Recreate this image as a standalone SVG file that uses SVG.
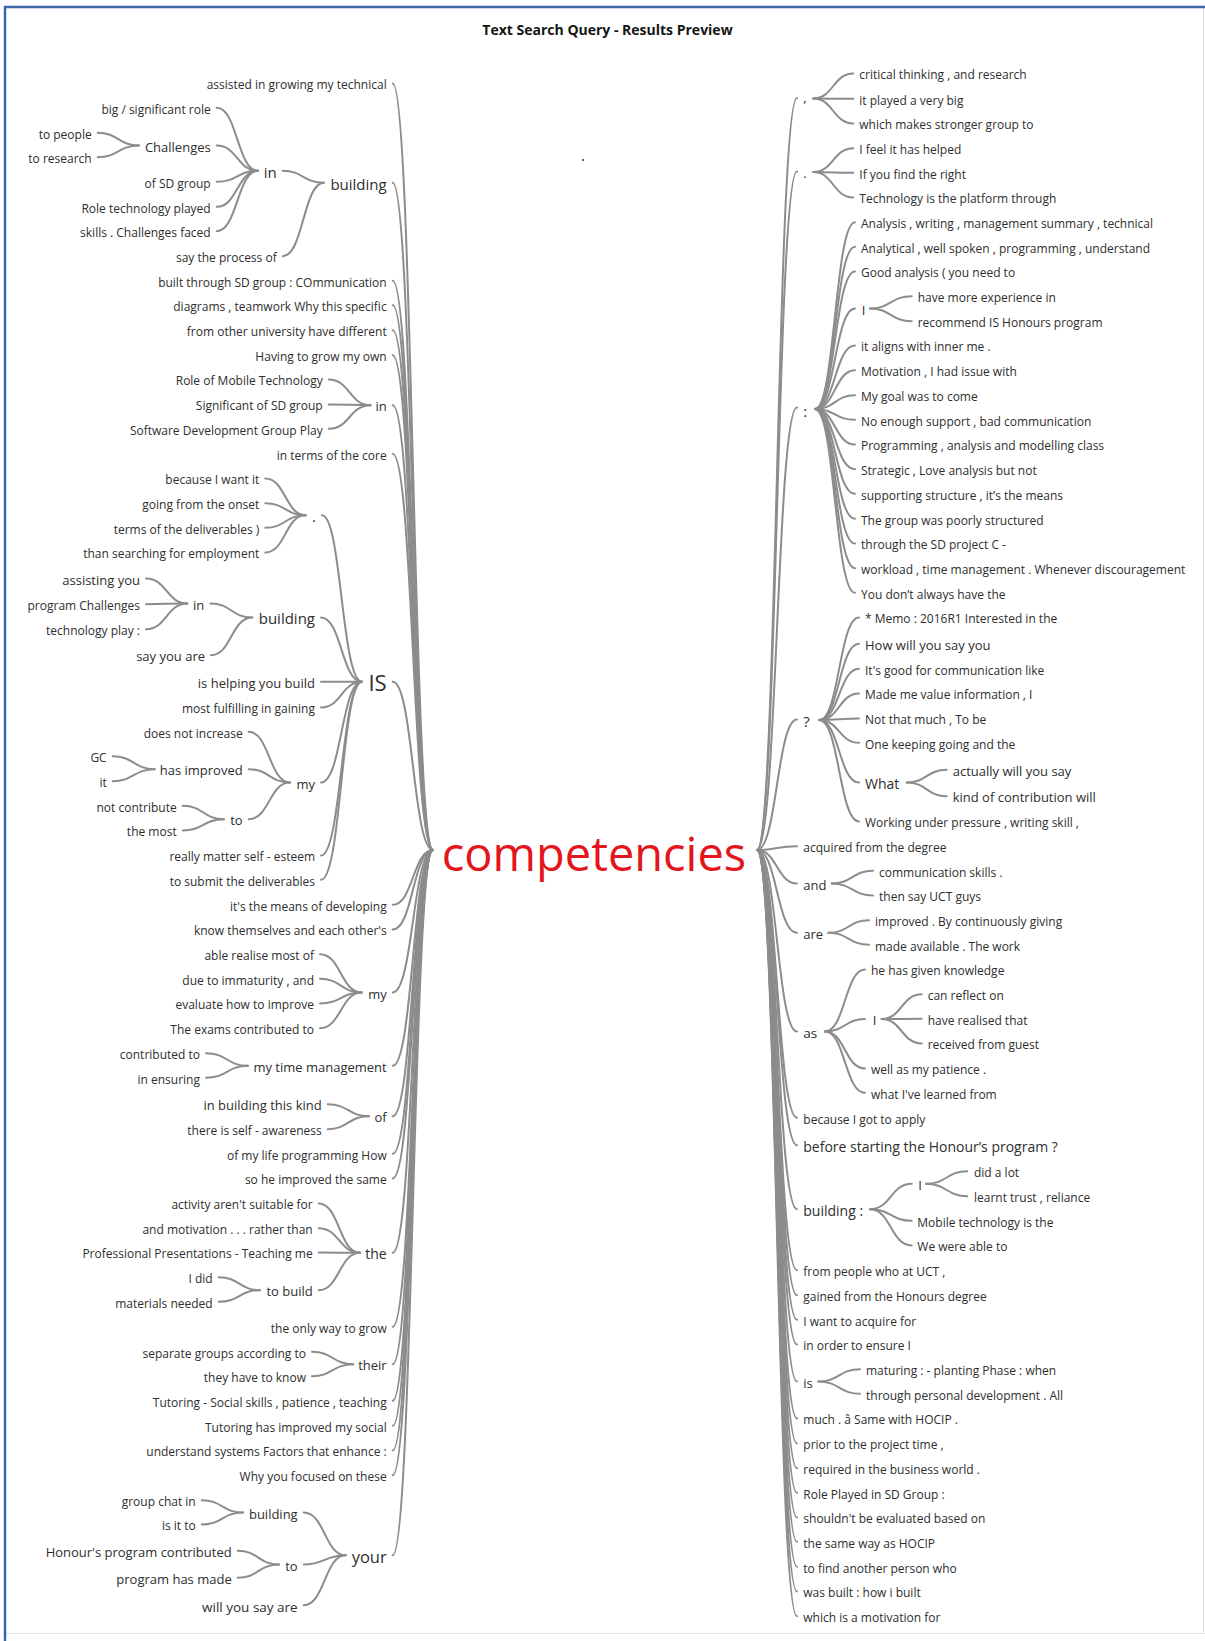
<svg xmlns="http://www.w3.org/2000/svg" width="1205" height="1641" viewBox="0 0 1205 1641">
<style>
text { font-family: "Open Sans", "Noto Sans", "DejaVu Sans", sans-serif; fill: #2e2e2e; }
.e { text-anchor: end; }
.s12 { font-size: 12px; }
.s13 { font-size: 13px; }
.s135 { font-size: 13.5px; }
.s14 { font-size: 14px; }
.s15 { font-size: 15px; }
.s165 { font-size: 16.5px; }
.s22 { font-size: 22px; }
.root { font-size: 47px; fill: #e3151d; }
.title { font-size: 14px; font-weight: bold; fill: #141414; text-anchor: middle; }
#connectors path { fill: none; stroke: #8c8c8c; stroke-width: 2; stroke-linecap: round; }
</style>
<rect width="1205" height="1641" fill="#ffffff"/>
<!-- window frame -->
<line x1="1203.5" y1="7" x2="1203.5" y2="1633" stroke="#dcdcdc" stroke-width="1"/>
<line x1="5" y1="1633.5" x2="1205" y2="1633.5" stroke="#e2e2e2" stroke-width="1"/>
<line x1="4" y1="7" x2="1205" y2="7" stroke="#3d66ab" stroke-width="2.5"/>
<line x1="5" y1="6" x2="5" y2="1641" stroke="#3d66ab" stroke-width="2.5"/>
<circle cx="583" cy="160" r="1" fill="#333"/>
<text class="title" x="607.5" y="35">Text Search Query - Results Preview</text>

<g id="connectors">
<!-- left trunk to root -->
<path d="M392.7 83.5C413 83.5 413 850 433 850"/>
<path d="M392.7 182.8C413 182.8 413 850 433 850"/>
<path d="M392.7 280.8C413 280.8 413 850 433 850"/>
<path d="M392.7 305.2C413 305.2 413 850 433 850"/>
<path d="M392.7 330.2C413 330.2 413 850 433 850"/>
<path d="M392.7 355.2C413 355.2 413 850 433 850"/>
<path d="M392.7 405.2C413 405.2 413 850 433 850"/>
<path d="M392.7 453.8C413 453.8 413 850 433 850"/>
<path d="M392.7 681.8C413 681.8 413 850 433 850"/>
<path d="M392.7 904.8C413 904.8 413 850 433 850"/>
<path d="M392.7 929.5C413 929.5 413 850 433 850"/>
<path d="M392.7 992.5C413 992.5 413 850 433 850"/>
<path d="M392.7 1065.8C413 1065.8 413 850 433 850"/>
<path d="M392.7 1116.2C413 1116.2 413 850 433 850"/>
<path d="M392.7 1153.8C413 1153.8 413 850 433 850"/>
<path d="M392.7 1178.5C413 1178.5 413 850 433 850"/>
<path d="M392.7 1252.8C413 1252.8 413 850 433 850"/>
<path d="M392.7 1326.8C413 1326.8 413 850 433 850"/>
<path d="M392.7 1364.2C413 1364.2 413 850 433 850"/>
<path d="M392.7 1400.8C413 1400.8 413 850 433 850"/>
<path d="M392.7 1425.8C413 1425.8 413 850 433 850"/>
<path d="M392.7 1450.5C413 1450.5 413 850 433 850"/>
<path d="M392.7 1475.2C413 1475.2 413 850 433 850"/>
<path d="M392.7 1555.2C413 1555.2 413 850 433 850"/>
<!-- building (top) -->
<path d="M282.7 170.8C303.3 170.8 303.3 182.8 324 182.8"/>
<path d="M282.7 256.2C303.3 256.2 303.3 182.8 324 182.8"/>
<!-- in (top) -->
<path d="M216.7 107.8C237.3 107.8 237.3 170.8 258 170.8"/>
<path d="M216.7 145.5C237.3 145.5 237.3 170.8 258 170.8"/>
<path d="M216.7 181.8C237.3 181.8 237.3 170.8 258 170.8"/>
<path d="M216.7 206.8C237.3 206.8 237.3 170.8 258 170.8"/>
<path d="M216.7 231.2C237.3 231.2 237.3 170.8 258 170.8"/>
<!-- Challenges -->
<path d="M97.7 132.8C118.3 132.8 118.3 145.5 139 145.5"/>
<path d="M97.7 157.2C118.3 157.2 118.3 145.5 139 145.5"/>
<!-- in (second) -->
<path d="M328.7 379.5C349.6 379.5 349.6 405.2 370.5 405.2"/>
<path d="M328.7 404.5C349.6 404.5 349.6 405.2 370.5 405.2"/>
<path d="M328.7 428.8C349.6 428.8 349.6 405.2 370.5 405.2"/>
<!-- IS -->
<path d="M322 515.2C341.5 515.2 341.5 681.8 362 681.8"/>
<path d="M321 617.5C341.5 617.5 341.5 681.8 362 681.8"/>
<path d="M321 681.8H362"/>
<path d="M321 707.5C341.5 707.5 341.5 681.8 362 681.8"/>
<path d="M321 782.5C341.5 782.5 341.5 681.8 362 681.8"/>
<path d="M321 855.5C341.5 855.5 341.5 681.8 362 681.8"/>
<path d="M321 879.8C341.5 879.8 341.5 681.8 362 681.8"/>
<!-- . under IS -->
<path d="M265.3 478.5C285.4 478.5 285.4 515.2 305.5 515.2"/>
<path d="M265.3 503.2C285.4 503.2 285.4 515.2 305.5 515.2"/>
<path d="M265.3 527.8C285.4 527.8 285.4 515.2 305.5 515.2"/>
<path d="M265.3 552.5C285.4 552.5 285.4 515.2 305.5 515.2"/>
<!-- building under IS -->
<path d="M210.3 603.5C231.3 603.5 231.3 617.5 252.3 617.5"/>
<path d="M211 655.2C231.3 655.2 231.3 617.5 252.3 617.5"/>
<path d="M146 578.5C166.6 578.5 166.6 603.5 187.3 603.5"/>
<path d="M146 604.2C166.6 604.2 166.6 603.5 187.3 603.5"/>
<path d="M146 629.2C166.6 629.2 166.6 603.5 187.3 603.5"/>
<!-- my under IS -->
<path d="M248.7 731.8C269.3 731.8 269.3 782.5 290 782.5"/>
<path d="M248.7 769.2C269.3 769.2 269.3 782.5 290 782.5"/>
<path d="M248.7 819.2C269.3 819.2 269.3 782.5 290 782.5"/>
<path d="M112.7 756.2C133.7 756.2 133.7 769.2 154.7 769.2"/>
<path d="M112.7 781.2C133.7 781.2 133.7 769.2 154.7 769.2"/>
<path d="M182.7 805.8C203.3 805.8 203.3 819.2 224 819.2"/>
<path d="M182.7 830.5C203.3 830.5 203.3 819.2 224 819.2"/>
<!-- my -->
<path d="M320 954.2C340.8 954.2 340.8 992.5 361.7 992.5"/>
<path d="M320 978.8C340.8 978.8 340.8 992.5 361.7 992.5"/>
<path d="M320 1003.5C340.8 1003.5 340.8 992.5 361.7 992.5"/>
<path d="M320 1028.2C340.8 1028.2 340.8 992.5 361.7 992.5"/>
<!-- my time management -->
<path d="M206 1053.2C227 1053.2 227 1065.8 248 1065.8"/>
<path d="M206 1077.8C227 1077.8 227 1065.8 248 1065.8"/>
<!-- of -->
<path d="M327.7 1104.2C348.3 1104.2 348.3 1116.2 369 1116.2"/>
<path d="M327.7 1129.2C348.3 1129.2 348.3 1116.2 369 1116.2"/>
<!-- the -->
<path d="M318.7 1203.5C339.3 1203.5 339.3 1252.8 360 1252.8"/>
<path d="M318.7 1228.2C339.3 1228.2 339.3 1252.8 360 1252.8"/>
<path d="M318.7 1252.5C339.3 1252.5 339.3 1252.8 360 1252.8"/>
<path d="M318.7 1290.2C339.3 1290.2 339.3 1252.8 360 1252.8"/>
<path d="M218.7 1277.2C239.3 1277.2 239.3 1290.2 260 1290.2"/>
<path d="M218.7 1301.8C239.3 1301.8 239.3 1290.2 260 1290.2"/>
<!-- their -->
<path d="M312 1351.8C332.7 1351.8 332.7 1364.2 353.3 1364.2"/>
<path d="M312 1376.2C332.7 1376.2 332.7 1364.2 353.3 1364.2"/>
<!-- your -->
<path d="M303.7 1512.5C324.7 1512.5 324.7 1555.2 345.7 1555.2"/>
<path d="M303.7 1564.5C324.7 1564.5 324.7 1555.2 345.7 1555.2"/>
<path d="M303.7 1605.2C324.7 1605.2 324.7 1555.2 345.7 1555.2"/>
<path d="M201.7 1500.2C222.3 1500.2 222.3 1512.5 243 1512.5"/>
<path d="M201.7 1524.5C222.3 1524.5 222.3 1512.5 243 1512.5"/>
<path d="M237.7 1550.8C258.3 1550.8 258.3 1564.5 279 1564.5"/>
<path d="M237.7 1577.8C258.3 1577.8 258.3 1564.5 279 1564.5"/>

<!-- right trunk from root -->
<path d="M757 850C777 850 777 98 797 98"/>
<path d="M757 850C777 850 777 171.5 797 171.5"/>
<path d="M757 850C777 850 777 407.5 797 407.5"/>
<path d="M757 850C777 850 777 719.5 797 719.5"/>
<path d="M757 850C777 850 777 846.2 797 846.2"/>
<path d="M757 850C777 850 777 883.5 797 883.5"/>
<path d="M757 850C777 850 777 932.8 797 932.8"/>
<path d="M757 850C777 850 777 1031.5 797 1031.5"/>
<path d="M757 850C777 850 777 1117.8 797 1117.8"/>
<path d="M757 850C777 850 777 1145.2 797 1145.2"/>
<path d="M757 850C777 850 777 1209.2 797 1209.2"/>
<path d="M757 850C777 850 777 1270.2 797 1270.2"/>
<path d="M757 850C777 850 777 1295.2 797 1295.2"/>
<path d="M757 850C777 850 777 1319.8 797 1319.8"/>
<path d="M757 850C777 850 777 1344.5 797 1344.5"/>
<path d="M757 850C777 850 777 1381.5 797 1381.5"/>
<path d="M757 850C777 850 777 1418.5 797 1418.5"/>
<path d="M757 850C777 850 777 1443.5 797 1443.5"/>
<path d="M757 850C777 850 777 1468.2 797 1468.2"/>
<path d="M757 850C777 850 777 1492.8 797 1492.8"/>
<path d="M757 850C777 850 777 1517.5 797 1517.5"/>
<path d="M757 850C777 850 777 1541.8 797 1541.8"/>
<path d="M757 850C777 850 777 1566.8 797 1566.8"/>
<path d="M757 850C777 850 777 1591.5 797 1591.5"/>
<path d="M757 850C777 850 777 1616.2 797 1616.2"/>
<!-- , -->
<path d="M813.3 98.5C833.3 98.5 833.3 73.5 853.3 73.5"/>
<path d="M813.3 98.5C833.3 98.5 833.3 98.8 853.3 98.8"/>
<path d="M813.3 98.5C833.3 98.5 833.3 123.5 853.3 123.5"/>
<!-- . -->
<path d="M813.3 172C833.3 172 833.3 148.2 853.3 148.2"/>
<path d="M813.3 172C833.3 172 833.3 172.8 853.3 172.8"/>
<path d="M813.3 172C833.3 172 833.3 197.5 853.3 197.5"/>
<!-- : -->
<path d="M815 409C835 409 835 222.2 855 222.2"/>
<path d="M815 409C835 409 835 246.8 855 246.8"/>
<path d="M815 409C835 409 835 271.5 855 271.5"/>
<path d="M815 409C835 409 835 308.5 855 308.5"/>
<path d="M815 409C835 409 835 345.5 855 345.5"/>
<path d="M815 409C835 409 835 370.2 855 370.2"/>
<path d="M815 409C835 409 835 395.2 855 395.2"/>
<path d="M815 409C835 409 835 419.8 855 419.8"/>
<path d="M815 409C835 409 835 444.5 855 444.5"/>
<path d="M815 409C835 409 835 469.2 855 469.2"/>
<path d="M815 409C835 409 835 493.8 855 493.8"/>
<path d="M815 409C835 409 835 518.8 855 518.8"/>
<path d="M815 409C835 409 835 543.5 855 543.5"/>
<path d="M815 409C835 409 835 568.2 855 568.2"/>
<path d="M815 409C835 409 835 592.8 855 592.8"/>
<path d="M870 308.5C890.8 308.5 890.8 296.2 911.7 296.2"/>
<path d="M870 308.5C890.8 308.5 890.8 321.2 911.7 321.2"/>
<!-- ? -->
<path d="M819.3 720C839.2 720 839.2 617.5 859 617.5"/>
<path d="M819.3 720C839.2 720 839.2 643.8 859 643.8"/>
<path d="M819.3 720C839.2 720 839.2 668.8 859 668.8"/>
<path d="M819.3 720C839.2 720 839.2 693.5 859 693.5"/>
<path d="M819.3 720C839.2 720 839.2 718.5 859 718.5"/>
<path d="M819.3 720C839.2 720 839.2 742.8 859 742.8"/>
<path d="M819.3 720C839.2 720 839.2 782.5 859 782.5"/>
<path d="M819.3 720C839.2 720 839.2 821.5 859 821.5"/>
<path d="M906.7 782.5C926.7 782.5 926.7 769.8 946.7 769.8"/>
<path d="M906.7 782.5C926.7 782.5 926.7 796.2 946.7 796.2"/>
<!-- and / are -->
<path d="M831.7 883.5C852.3 883.5 852.3 870.8 873 870.8"/>
<path d="M831.7 883.5C852.3 883.5 852.3 895.5 873 895.5"/>
<path d="M828.3 932.8C848.7 932.8 848.7 920.2 869 920.2"/>
<path d="M828.3 932.8C848.7 932.8 848.7 944.8 869 944.8"/>
<!-- as -->
<path d="M825 1031.5C845 1031.5 845 969.5 865 969.5"/>
<path d="M825 1031.5C845 1031.5 845 1019 865 1019"/>
<path d="M825 1031.5C845 1031.5 845 1068.5 865 1068.5"/>
<path d="M825 1031.5C845 1031.5 845 1092.8 865 1092.8"/>
<path d="M881.7 1019C901.7 1019 901.7 994.2 921.7 994.2"/>
<path d="M881.7 1019C901.7 1019 901.7 1018.8 921.7 1018.8"/>
<path d="M881.7 1019C901.7 1019 901.7 1043.5 921.7 1043.5"/>
<!-- building : -->
<path d="M870 1209.2C890.8 1209.2 890.8 1183.8 911.7 1183.8"/>
<path d="M870 1209.2C890.8 1209.2 890.8 1220.8 911.7 1220.8"/>
<path d="M870 1209.2C890.8 1209.2 890.8 1245.5 911.7 1245.5"/>
<path d="M926 1183.8C946.7 1183.8 946.7 1171.2 967.3 1171.2"/>
<path d="M926 1183.8C946.7 1183.8 946.7 1196.2 967.3 1196.2"/>
<!-- is -->
<path d="M818.3 1381.5C839.2 1381.5 839.2 1369.2 860 1369.2"/>
<path d="M818.3 1381.5C839.2 1381.5 839.2 1393.8 860 1393.8"/>
</g>

<!-- root -->
<g id="n-root"><text class="root" x="441.7" y="871">competencies</text></g>

<!-- left branch nodes -->
<g id="n-l01"><text class="e s12" x="386.7" y="89.3">assisted in growing my technical</text></g>
<g id="n-l02"><text class="e s15" x="386.7" y="189.7">building</text></g>
<g id="n-l03"><text class="e s15" x="276.7" y="177.7">in</text></g>
<g id="n-l04"><text class="e s12" x="210.7" y="113.6">big / significant role</text></g>
<g id="n-l05"><text class="e s13" x="210.7" y="151.7">Challenges</text></g>
<g id="n-l06"><text class="e s12" x="91.7" y="138.6">to people</text></g>
<g id="n-l07"><text class="e s12" x="91.7" y="163">to research</text></g>
<g id="n-l08"><text class="e s12" x="210.7" y="187.6">of SD group</text></g>
<g id="n-l09"><text class="e s12" x="210.7" y="212.6">Role technology played</text></g>
<g id="n-l10"><text class="e s12" x="210.7" y="237">skills . Challenges faced</text></g>
<g id="n-l11"><text class="e s12" x="276.7" y="262">say the process of</text></g>
<g id="n-l12"><text class="e s12" x="386.7" y="286.6">built through SD group : COmmunication</text></g>
<g id="n-l13"><text class="e s12" x="386.7" y="311">diagrams , teamwork Why this specific</text></g>
<g id="n-l14"><text class="e s12" x="386.7" y="336">from other university have different</text></g>
<g id="n-l15"><text class="e s12" x="386.7" y="361">Having to grow my own</text></g>
<g id="n-l16"><text class="e s13" x="386.7" y="411.4">in</text></g>
<g id="n-l17"><text class="e s12" x="322.7" y="385.3">Role of Mobile Technology</text></g>
<g id="n-l18"><text class="e s12" x="322.7" y="410.3">Significant of SD group</text></g>
<g id="n-l19"><text class="e s12" x="322.7" y="434.6">Software Development Group Play</text></g>
<g id="n-l20"><text class="e s12" x="386.7" y="459.6">in terms of the core</text></g>
<g id="n-l21"><text class="e s22" x="386.7" y="691.2">IS</text></g>
<g id="n-l22"><text class="e s15" x="316" y="521.5">.</text></g>
<g id="n-l23"><text class="e s12" x="259.3" y="484.3">because I want it</text></g>
<g id="n-l24"><text class="e s12" x="259.3" y="509">going from the onset</text></g>
<g id="n-l25"><text class="e s12" x="259.3" y="533.6">terms of the deliverables )</text></g>
<g id="n-l26"><text class="e s12" x="259.3" y="558.3">than searching for employment</text></g>
<g id="n-l27"><text class="e s15" x="315" y="624.4">building</text></g>
<g id="n-l28"><text class="e s13" x="204.3" y="609.7">in</text></g>
<g id="n-l29"><text class="e s13" x="140" y="584.7">assisting you</text></g>
<g id="n-l30"><text class="e s12" x="140" y="610">program Challenges</text></g>
<g id="n-l31"><text class="e s12" x="140" y="635">technology play :</text></g>
<g id="n-l32"><text class="e s13" x="205" y="661.4">say you are</text></g>
<g id="n-l33"><text class="e s13" x="315" y="688">is helping you build</text></g>
<g id="n-l34"><text class="e s12" x="315" y="713.3">most fulfilling in gaining</text></g>
<g id="n-l35"><text class="e s13" x="315" y="788.7">my</text></g>
<g id="n-l36"><text class="e s12" x="242.7" y="737.6">does not increase</text></g>
<g id="n-l37"><text class="e s13" x="242.7" y="775.4">has improved</text></g>
<g id="n-l38"><text class="e s12" x="106.7" y="762">GC</text></g>
<g id="n-l39"><text class="e s12" x="106.7" y="787">it</text></g>
<g id="n-l40"><text class="e s13" x="242.7" y="825.4">to</text></g>
<g id="n-l41"><text class="e s12" x="176.7" y="811.6">not contribute</text></g>
<g id="n-l42"><text class="e s12" x="176.7" y="836.3">the most</text></g>
<g id="n-l43"><text class="e s12" x="315" y="861.3">really matter self - esteem</text></g>
<g id="n-l44"><text class="e s12" x="315" y="885.6">to submit the deliverables</text></g>
<g id="n-l45"><text class="e s12" x="386.7" y="910.6">it's the means of developing</text></g>
<g id="n-l46"><text class="e s12" x="386.7" y="935.3">know themselves and each other's</text></g>
<g id="n-l47"><text class="e s13" x="386.7" y="998.7">my</text></g>
<g id="n-l48"><text class="e s12" x="314" y="960">able realise most of</text></g>
<g id="n-l49"><text class="e s12" x="314" y="984.6">due to immaturity , and</text></g>
<g id="n-l50"><text class="e s12" x="314" y="1009.3">evaluate how to improve</text></g>
<g id="n-l51"><text class="e s12" x="314" y="1034">The exams contributed to</text></g>
<g id="n-l52"><text class="e s13" x="386.7" y="1072">my time management</text></g>
<g id="n-l53"><text class="e s12" x="200" y="1059">contributed to</text></g>
<g id="n-l54"><text class="e s12" x="200" y="1083.6">in ensuring</text></g>
<g id="n-l55"><text class="e s13" x="386.7" y="1122.4">of</text></g>
<g id="n-l56"><text class="e s13" x="321.7" y="1110.4">in building this kind</text></g>
<g id="n-l57"><text class="e s12" x="321.7" y="1135">there is self - awareness</text></g>
<g id="n-l58"><text class="e s12" x="386.7" y="1159.6">of my life programming How</text></g>
<g id="n-l59"><text class="e s12" x="386.7" y="1184.3">so he improved the same</text></g>
<g id="n-l60"><text class="e s14" x="386.7" y="1259.3">the</text></g>
<g id="n-l61"><text class="e s12" x="312.7" y="1209.3">activity aren't suitable for</text></g>
<g id="n-l62"><text class="e s12" x="312.7" y="1234">and motivation . . . rather than</text></g>
<g id="n-l63"><text class="e s12" x="312.7" y="1258.3">Professional Presentations - Teaching me</text></g>
<g id="n-l64"><text class="e s13" x="312.7" y="1296.4">to build</text></g>
<g id="n-l65"><text class="e s12" x="212.7" y="1283">I did</text></g>
<g id="n-l66"><text class="e s12" x="212.7" y="1307.6">materials needed</text></g>
<g id="n-l67"><text class="e s12" x="386.7" y="1332.6">the only way to grow</text></g>
<g id="n-l68"><text class="e s13" x="386.7" y="1370.4">their</text></g>
<g id="n-l69"><text class="e s12" x="306" y="1357.6">separate groups according to</text></g>
<g id="n-l70"><text class="e s12" x="306" y="1382">they have to know</text></g>
<g id="n-l71"><text class="e s12" x="386.7" y="1406.6">Tutoring - Social skills , patience , teaching</text></g>
<g id="n-l72"><text class="e s12" x="386.7" y="1431.6">Tutoring has improved my social</text></g>
<g id="n-l73"><text class="e s12" x="386.7" y="1456.3">understand systems Factors that enhance :</text></g>
<g id="n-l74"><text class="e s12" x="386.7" y="1481">Why you focused on these</text></g>
<g id="n-l75"><text class="e s165" x="386.7" y="1562.6">your</text></g>
<g id="n-l76"><text class="e s13" x="297.7" y="1518.7">building</text></g>
<g id="n-l77"><text class="e s12" x="195.7" y="1506">group chat in</text></g>
<g id="n-l78"><text class="e s12" x="195.7" y="1530.3">is it to</text></g>
<g id="n-l79"><text class="e s13" x="297.7" y="1570.7">to</text></g>
<g id="n-l80"><text class="e s13" x="231.7" y="1557">Honour's program contributed</text></g>
<g id="n-l81"><text class="e s13" x="231.7" y="1584">program has made</text></g>
<g id="n-l82"><text class="e s135" x="297.7" y="1611.6">will you say are</text></g>

<!-- right branch nodes -->
<g id="n-r01"><text class="s13" x="803.3" y="102">,</text></g>
<g id="n-r02"><text class="s12" x="859.3" y="79.3">critical thinking , and research</text></g>
<g id="n-r03"><text class="s12" x="859.3" y="104.6">it played a very big</text></g>
<g id="n-r04"><text class="s12" x="859.3" y="129.3">which makes stronger group to</text></g>
<g id="n-r05"><text class="s13" x="803.3" y="177.5">.</text></g>
<g id="n-r06"><text class="s12" x="859.3" y="154">I feel it has helped</text></g>
<g id="n-r07"><text class="s12" x="859.3" y="178.6">If you find the right</text></g>
<g id="n-r08"><text class="s12" x="859.3" y="203.3">Technology is the platform through</text></g>
<g id="n-r09"><text class="s15" x="803.3" y="417">:</text></g>
<g id="n-r10"><text class="s12" x="861" y="228">Analysis , writing , management summary , technical</text></g>
<g id="n-r11"><text class="s12" x="861" y="252.6">Analytical , well spoken , programming , understand</text></g>
<g id="n-r12"><text class="s12" x="861" y="277.3">Good analysis ( you need to</text></g>
<g id="n-r13"><text class="s13" x="861.7" y="314.7">I</text></g>
<g id="n-r14"><text class="s12" x="917.7" y="302">have more experience in</text></g>
<g id="n-r15"><text class="s12" x="917.7" y="327">recommend IS Honours program</text></g>
<g id="n-r16"><text class="s12" x="861" y="351.3">it aligns with inner me .</text></g>
<g id="n-r17"><text class="s12" x="861" y="376">Motivation , I had issue with</text></g>
<g id="n-r18"><text class="s12" x="861" y="401">My goal was to come</text></g>
<g id="n-r19"><text class="s12" x="861" y="425.6">No enough support , bad communication</text></g>
<g id="n-r20"><text class="s12" x="861" y="450.3">Programming , analysis and modelling class</text></g>
<g id="n-r21"><text class="s12" x="861" y="475">Strategic , Love analysis but not</text></g>
<g id="n-r22"><text class="s12" x="861" y="499.6">supporting structure , it’s the means</text></g>
<g id="n-r23"><text class="s12" x="861" y="524.6">The group was poorly structured</text></g>
<g id="n-r24"><text class="s12" x="861" y="549.3">through the SD project C -</text></g>
<g id="n-r25"><text class="s12" x="861" y="574">workload , time management . Whenever discouragement</text></g>
<g id="n-r26"><text class="s12" x="861" y="598.6">You don’t always have the</text></g>
<g id="n-r27"><text class="s15" x="803.3" y="727">?</text></g>
<g id="n-r28"><text class="s12" x="865" y="623.3">* Memo : 2016R1 Interested in the</text></g>
<g id="n-r29"><text class="s13" x="865" y="650">How will you say you</text></g>
<g id="n-r30"><text class="s12" x="865" y="674.6">It's good for communication like</text></g>
<g id="n-r31"><text class="s12" x="865" y="699.3">Made me value information , I</text></g>
<g id="n-r32"><text class="s12" x="865" y="724.3">Not that much , To be</text></g>
<g id="n-r33"><text class="s12" x="865" y="748.6">One keeping going and the</text></g>
<g id="n-r34"><text class="s14" x="865" y="789">What</text></g>
<g id="n-r35"><text class="s13" x="952.7" y="776">actually will you say</text></g>
<g id="n-r36"><text class="s13" x="952.7" y="802.4">kind of contribution will</text></g>
<g id="n-r37"><text class="s12" x="865" y="827.3">Working under pressure , writing skill ,</text></g>
<g id="n-r38"><text class="s12" x="803.3" y="852">acquired from the degree</text></g>
<g id="n-r39"><text class="s13" x="803.3" y="889.7">and</text></g>
<g id="n-r40"><text class="s12" x="879" y="876.6">communication skills .</text></g>
<g id="n-r41"><text class="s12" x="879" y="901.3">then say UCT guys</text></g>
<g id="n-r42"><text class="s13" x="803.3" y="939">are</text></g>
<g id="n-r43"><text class="s12" x="875" y="926">improved . By continuously giving</text></g>
<g id="n-r44"><text class="s12" x="875" y="950.6">made available . The work</text></g>
<g id="n-r45"><text class="s135" x="803.3" y="1037.9">as</text></g>
<g id="n-r46"><text class="s12" x="871" y="975.3">he has given knowledge</text></g>
<g id="n-r47"><text class="s13" x="872.7" y="1025.2">I</text></g>
<g id="n-r48"><text class="s12" x="927.7" y="1000">can reflect on</text></g>
<g id="n-r49"><text class="s12" x="927.7" y="1024.6">have realised that</text></g>
<g id="n-r50"><text class="s12" x="927.7" y="1049.3">received from guest</text></g>
<g id="n-r51"><text class="s12" x="871" y="1074.3">well as my patience .</text></g>
<g id="n-r52"><text class="s12" x="871" y="1098.6">what I've learned from</text></g>
<g id="n-r53"><text class="s12" x="803.3" y="1123.6">because I got to apply</text></g>
<g id="n-r54"><text class="s14" x="803.3" y="1151.7">before starting the Honour’s program ?</text></g>
<g id="n-r55"><text class="s14" x="803.3" y="1215.7">building :</text></g>
<g id="n-r56"><text class="s13" x="918.3" y="1190">I</text></g>
<g id="n-r57"><text class="s12" x="974" y="1177">did a lot</text></g>
<g id="n-r58"><text class="s12" x="974" y="1202">learnt trust , reliance</text></g>
<g id="n-r59"><text class="s12" x="917.3" y="1226.6">Mobile technology is the</text></g>
<g id="n-r60"><text class="s12" x="917.3" y="1251.3">We were able to</text></g>
<g id="n-r61"><text class="s12" x="803.3" y="1276">from people who at UCT ,</text></g>
<g id="n-r62"><text class="s12" x="803.3" y="1301">gained from the Honours degree</text></g>
<g id="n-r63"><text class="s12" x="803.3" y="1325.6">I want to acquire for</text></g>
<g id="n-r64"><text class="s12" x="803.3" y="1350.3">in order to ensure I</text></g>
<g id="n-r65"><text class="s13" x="803.3" y="1387.7">is</text></g>
<g id="n-r66"><text class="s12" x="866" y="1375">maturing : - planting Phase : when</text></g>
<g id="n-r67"><text class="s12" x="866" y="1399.6">through personal development . All</text></g>
<g id="n-r68"><text class="s12" x="803.3" y="1424.3">much . â Same with HOCIP .</text></g>
<g id="n-r69"><text class="s12" x="803.3" y="1449.3">prior to the project time ,</text></g>
<g id="n-r70"><text class="s12" x="803.3" y="1474">required in the business world .</text></g>
<g id="n-r71"><text class="s12" x="803.3" y="1498.6">Role Played in SD Group :</text></g>
<g id="n-r72"><text class="s12" x="803.3" y="1523.3">shouldn't be evaluated based on</text></g>
<g id="n-r73"><text class="s12" x="803.3" y="1547.6">the same way as HOCIP</text></g>
<g id="n-r74"><text class="s12" x="803.3" y="1572.6">to find another person who</text></g>
<g id="n-r75"><text class="s12" x="803.3" y="1597.3">was built : how i built</text></g>
<g id="n-r76"><text class="s12" x="803.3" y="1622">which is a motivation for</text></g>
</svg>
